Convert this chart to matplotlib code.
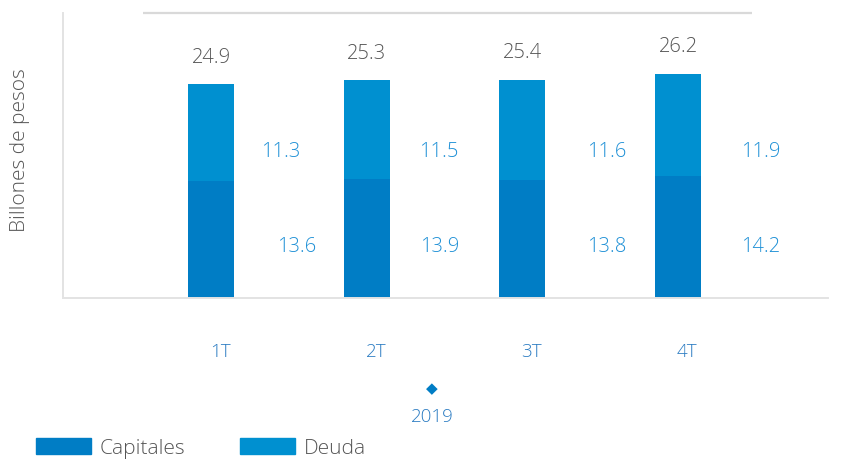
import matplotlib.pyplot as plt
from matplotlib.patches import Patch
from matplotlib.transforms import blended_transform_factory

quarters = ["1T", "2T", "3T", "4T"]
year = "2019"
capitales = [13.6, 13.9, 13.8, 14.2]
deuda = [11.3, 11.5, 11.6, 11.9]
totales = [24.9, 25.3, 25.4, 26.2]

c_cap = "#007dc5"
c_deu = "#0090d0"
c_lbl = "#1e90d6"
c_tick = "#2a7bc2"
c_grey = "#555555"

plt.rcParams["font.family"] = ["Open Sans", "DejaVu Sans"]
plt.rcParams["font.weight"] = "light"

fig = plt.figure(figsize=(8.56, 4.64), dpi=100)
ax = fig.add_axes([63 / 856, 165 / 464, 765 / 856, 285 / 464])

x = list(range(len(quarters)))
w = 0.295
ax.bar(x, capitales, w, color=c_cap)
ax.bar(x, deuda, w, bottom=capitales, color=c_deu)

ax.set_xlim(-0.951, 3.963)
ax.set_ylim(0, 33.2)

# totals above bars
for xi, t in zip(x, totales):
    ax.text(xi, t + 3.2, f"{t:.1f}", ha="center", va="center",
            fontsize=14.5, color=c_grey)

# segment labels, offset right of the bars
dx_top = [0.45, 0.46, 0.54, 0.53]
dx_bot = [0.55, 0.47, 0.54, 0.53]
for xi, c, d, a, b in zip(x, capitales, deuda, dx_top, dx_bot):
    ax.text(xi + a, 17.1, f"{d:.1f}", ha="center", va="center",
            fontsize=14.5, color=c_lbl)
    ax.text(xi + b, 6.1, f"{c:.1f}", ha="center", va="center",
            fontsize=14.5, color=c_lbl)

# grey line at the top
ax.hlines(33.2, -0.437, 3.475, color="#d9d9d9", lw=1.6, clip_on=False)

for s in ["top", "right"]:
    ax.spines[s].set_visible(False)
for s in ["left", "bottom"]:
    ax.spines[s].set_color("#e3e3e3")
    ax.spines[s].set_linewidth(1.4)
ax.set_xticks([])
ax.set_yticks([])

tr = blended_transform_factory(ax.transData, fig.transFigure)
for xi, q in zip(x, quarters):
    ax.text(xi + 0.06, 1 - 352 / 464, q, transform=tr, ha="center",
            va="center", fontsize=13.5, color=c_tick)
ax.text(1.42, 1 - 389 / 464, "\u25c6", transform=tr, ha="center",
        va="center", fontsize=11, color=c_cap, family=["DejaVu Sans"],
        fontweight="normal")
ax.text(1.42, 1 - 417 / 464, year, transform=tr, ha="center",
        va="center", fontsize=13.5, color=c_tick)

fig.text(20 / 856, 1 - 150 / 464, "Billones de pesos", rotation=90,
         ha="center", va="center", fontsize=15, color=c_grey)

handles = [Patch(color=c_cap, label="Capitales"),
           Patch(color=c_deu, label="Deuda")]
fig.legend(handles=handles, loc="lower left", ncol=2,
           bbox_to_anchor=(0.032, -0.008), frameon=False, fontsize=15,
           handlelength=2.65, handleheight=0.75, handletextpad=0.4,
           columnspacing=2.65, labelcolor=c_grey, borderaxespad=0.0)

fig.savefig("out.png", dpi=100)
